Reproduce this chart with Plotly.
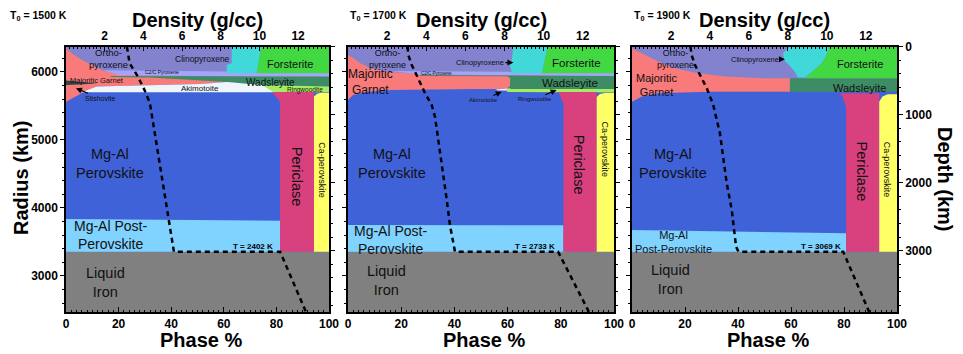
import plotly.graph_objects as go

# ---------------- data ----------------
T0 = [1500, 1700, 1900]
T_CMB = [2402, 2733, 3069]

R_TOP, R_BOT, R_CMB = 6371, 2470, 3357
DENSITY_MAX = 13.6

PHASE_TICKS = [0, 20, 40, 60, 80, 100]
DENSITY_TICKS = [2, 4, 6, 8, 10, 12]
RADIUS_TICKS = [3000, 4000, 5000, 6000]
DEPTH_TICKS = [0, 1000, 2000, 3000]

# density profile (g/cc) against radius (km), one list per panel
DENSITY = [
    [3.15, 3.22, 3.29, 3.72, 4.06, 4.34, 4.86, 5.20, 5.46, 5.58, 11.07, 12.41],
    [3.05, 3.08, 3.26, 3.68, 3.94, 4.28, 4.45, 5.05, 5.21, 5.47, 10.74, 12.32],
    [3.00, 3.06, 3.23, 3.58, 3.84, 4.17, 4.51, 4.86, 5.12, 5.34, 5.46, 10.84, 12.17],
]
DENSITY_R = [
    [6371, 6250, 6128, 5930, 5734, 5539, 4632, 3970, 3529, 3357, 3357, 2470],
    [6371, 6250, 6103, 5837, 5687, 5515, 5338, 4117, 3750, 3357, 3357, 2470],
    [6371, 6250, 6103, 5906, 5759, 5514, 5102, 4367, 3970, 3431, 3357, 3357, 2470],
]

# phase fields as outlines in (phase %, radius km); one entry per panel
FE_P, FE_R = [0, 100, 100, 0], [2400, 2400, R_CMB, R_CMB]
PV_P, PV_R = [0, 100, 100, 0], [R_CMB, R_CMB, 5850, 5850]
OPX_P, OPX_R = [0, 100, 100, 0], [5850, 5850, 6400, 6400]

PPV_P = [[0, 81.4, 81.4, 0], [0, 81, 81, 0], [0, 80.8, 80.8, 0]]
PPV_R = [[R_CMB, R_CMB, 3813, 3838], [R_CMB, R_CMB, 3745, 3750], [R_CMB, R_CMB, 3627, 3676]]

GARNET_P = [
    [0, 0.8, 3.4, 6.5, 10.3, 14.1, 20.5, 40, 61.2, 61.2, 51, 31.9, 11.7, 7.2, 3.4, 0],
    [0, 1.9, 4.5, 8.3, 15.8, 27.1, 59.8, 60.9, 60.9, 59.8, 49.6, 15.8, 7.1, 1.9, 0],
    [0, 4.9, 9.8, 16.2, 24.9, 35.1, 50.2, 59.6, 59.6, 28.7, 9.8, 3.7, 0],
]
GARNET_R = [
    [6360, 6314, 6241, 6167, 6094, 6020, 5956, 5935, 5870, 5853, 5824, 5809, 5784, 5714, 5640, 5563],
    [6250, 6206, 6132, 6059, 6000, 5971, 5949, 5912, 5794, 5750, 5750, 5735, 5710, 5662, 5588],
    [6348, 6250, 6152, 6054, 5981, 5931, 5907, 5907, 5710, 5710, 5687, 5637, 5563],
]

C2C_P = [[14, 100, 100, 20], [15.8, 100, 100, 27.1], None]
C2C_R = [[6025, 5992, 5926, 5950], [6015, 5993, 5934, 5963], None]

WADS_P = [
    [17, 100, 100, 75.7, 61.2, 47.1, 31.9, 17],
    [27.1, 100, 100, 59.8, 60.9, 60.9, 59.8, 27.1],
    [59.6, 100, 100, 59.6],
]
WADS_R = [
    [5940, 5931, 5784, 5809, 5853, 5882, 5919, 5925],
    [5955, 5940, 5750, 5750, 5794, 5912, 5935, 5942],
    [5907, 5907, 5710, 5710],
]

AKI_P = [[11.7, 31.9, 51, 61.2, 74.5, 78.5, 81.4, 6], [55.3, 60.9, 61.7, 56.4], None]
AKI_R = [[5784, 5809, 5824, 5853, 5809, 5765, 5700, 5700], [5743, 5758, 5728, 5728], None]

STI_P = [[0, 5.3, 11.8, 5.3, 0], None, None]
STI_R = [[5875, 5860, 5831, 5816, 5809], None, None]

RW_P = [[74.5, 100, 100, 79], [59.8, 100, 100, 59.8], None]
RW_R = [[5809, 5784, 5700, 5700], [5750, 5750, 5696, 5706], None]

CPX_P = [
    [63, 74.4, 72.5, 61.1, 61.1, 63],
    [62.0, 75.2, 72.9, 61.7, 60.9, 61.7, 62.0],
    [59.6, 74.7, 73.2, 71.7, 67.9, 65.3, 62.6, 61.5, 59.6, 57.4, 57.0, 58.9],
]
CPX_R = [
    [6400, 6400, 5981, 5981, 6103, 6128],
    [6400, 6400, 5981, 5981, 6088, 6206, 6324],
    [6400, 6400, 6235, 6132, 6000, 5919, 5919, 6000, 6088, 6176, 6279, 6353],
]

FO_P = [[74.4, 100, 100, 72.5], [75.2, 100, 100, 72.9], [74.7, 100, 100, 65.3, 67.9, 71.7, 73.2]]
FO_R = [[6400, 6400, 5981, 5981], [6400, 6400, 5981, 5981], [6400, 6400, 5907, 5907, 6000, 6132, 6235]]

PER_P = [[78.3, 94.3, 94.3, 81.4, 81.4], [79.1, 93.5, 93.5, 81, 81], [78.5, 93.3, 93.3, 80.8, 80.8, 79.6]]
PER_R = [[5706, 5706, R_CMB, R_CMB, 5560], [5706, 5706, R_CMB, R_CMB, 5530],
         [5687, 5687, R_CMB, R_CMB, 5480, 5620]]

CAPV_P = [[94.3, 95.5, 97, 100, 100, 94.3], [93.5, 94.7, 96.5, 100, 100, 93.5],
          [93.3, 94.5, 96.5, 100, 100, 93.3]]
CAPV_R = [[5640, 5680, 5695, 5695, R_CMB, R_CMB], [5630, 5675, 5690, 5690, R_CMB, R_CMB],
          [5560, 5640, 5670, 5670, R_CMB, R_CMB]]

# ---------------- styling ----------------
# the page body keeps its default 8px margin, so the figure is 8px smaller
PAGE_OFF = 8
W, H = 963 - PAGE_OFF, 354 - PAGE_OFF
PANEL_PX = [(66, 329), (348, 614), (632, 897)]   # page pixels
TOP_PX, BOT_PX = 46.7, 312
FONT = "Liberation Sans, Arial, Helvetica, sans-serif"
INK = "#111111"


def px_x(px):
    return (px - PAGE_OFF) / W


def px_y(py):
    return 1 - (py - PAGE_OFF) / H


LAYERS = [
    ("#808080", [FE_P] * 3, [FE_R] * 3),
    ("#4062d8", [PV_P] * 3, [PV_R] * 3),
    ("#80d2ff", PPV_P, PPV_R),
    ("#8282cf", [OPX_P] * 3, [OPX_R] * 3),
    ("#f87a7a", GARNET_P, GARNET_R),
    ("#a4a4fa", C2C_P, C2C_R),
    ("#3e8c64", WADS_P, WADS_R),
    ("#eef6fc", AKI_P, AKI_R),
    ("#2c4444", STI_P, STI_R),
    ("#a6ec62", RW_P, RW_R),
    ("#40d8d8", CPX_P, CPX_R),
    ("#42d842", FO_P, FO_R),
    ("#d8407e", PER_P, PER_R),
    ("#ffff66", CAPV_P, CAPV_R),
]

# (text, phase %, radius, font size, angle)
LABELS = [
    [("Mg-Al<br>Perovskite", 16.7, 4647, 14.5, 0), ("Mg-Al Post-<br>Perovskite", 17, 3596, 14, 0),
     ("Liquid<br>Iron", 15.2, 2897, 14.5, 0), ("Periclase", 87.8, 4460, 14.5, 90),
     ("Ca-perovskite", 97.2, 4560, 9, 90), ("Ortho-<br>pyroxene", 16, 6191, 9.5, 0),
     ("C2/C Pyroxene", 36.4, 6004, 5, 0), ("Forsterite", 85.2, 6113, 11, 0),
     ("Wadsleyite", 77.6, 5849, 10, 0), ("Majoritic Garnet", 11.7, 5880, 7.5, 0),
     ("Akimotoite", 51, 5760, 8, 0), ("Ringwoodite", 90.9, 5740, 6.5, 0)],
    [("Mg-Al<br>Perovskite", 16.5, 4647, 14.5, 0), ("Mg-Al Post-<br>Perovskite", 15.8, 3529, 14, 0),
     ("Liquid<br>Iron", 14.6, 2926, 14.5, 0), ("Periclase", 86.9, 4632, 14.5, 90),
     ("Ca-perovskite", 96.8, 4853, 9, 90), ("Ortho-<br>pyroxene", 15, 6191, 9, 0),
     ("C2/C Pyroxene", 33.3, 5975, 4.5, 0), ("Forsterite", 86, 6137, 11.5, 0),
     ("Wadsleyite", 83.5, 5834, 11.5, 0), ("Majoritic<br>Garnet", 8.6, 5846, 12, 0)],
    [("Mg-Al<br>Perovskite", 15.5, 4647, 14.5, 0), ("Mg-Al<br>Post-Perovskite", 15.5, 3500, 11, 0),
     ("Liquid<br>Iron", 14.7, 2941, 14.5, 0), ("Periclase", 86.8, 4534, 14.5, 90),
     ("Ca-perovskite", 96.3, 4560, 9, 90), ("Ortho-<br>pyroxene", 16.6, 6191, 9, 0),
     ("Forsterite", 86, 6113, 11, 0), ("Wadsleyite", 86, 5769, 11, 0),
     ("Majoritic<br>Garnet", 9.1, 5809, 11, 0)],
]

# (text, text phase %, text radius, tip phase %, tip radius, font size)
ARROWS = [
    [("Clinopyroxene", 52, 6187, 63.3, 6187, 8.5), ("Stishovite", 12.9, 5613, 3.8, 5760, 7)],
    [("Clinopyroxene", 49.6, 6137, 62.2, 6137, 7.5), ("Akimotoite", 50.9, 5588, 57.8, 5710, 6),
     ("Ringwoodite", 70.3, 5598, 78.4, 5735, 6)],
    [("Clinopyroxene", 46.4, 6187, 57.7, 6187, 7.5)],
]
T_LABEL_POS = [(79.5, 3431), (78.4, 3431), (79.6, 3431)]

tick_font = dict(family=FONT, size=12, color="black", weight="bold")
title_font = dict(family=FONT, size=20, color="black", weight="bold")

fig = go.Figure()
annotations = []
layout = {}
ydom = [px_y(BOT_PX), px_y(TOP_PX)]

for i in range(3):
    sb = "" if i == 0 else str(i + 1)
    st = str(i + 4)
    xb, yb, xt, yt = "x" + sb, "y" + sb, "x" + st, "y" + st

    for color, plist, rlist in LAYERS:
        if plist[i] is None:
            continue
        fig.add_trace(go.Scatter(x=plist[i], y=rlist[i], xaxis=xb, yaxis=yb, mode="lines",
                                 fill="toself", fillcolor=color, line=dict(width=0),
                                 hoverinfo="skip", showlegend=False))

    fig.add_trace(go.Scatter(x=DENSITY[i], y=DENSITY_R[i], xaxis=xt, yaxis=yb, mode="lines",
                             line=dict(color="black", width=2.5, dash="5px,4px"),
                             hoverinfo="skip", showlegend=False))
    fig.add_trace(go.Scatter(x=[None], y=[None], xaxis=xb, yaxis=yt, showlegend=False,
                             hoverinfo="skip"))

    dom = [px_x(PANEL_PX[i][0]), px_x(PANEL_PX[i][1])]
    common = dict(showline=True, linecolor="black", linewidth=1.5, showgrid=False,
                  zeroline=False, tickcolor="black", tickfont=tick_font, automargin=False)
    layout["xaxis" + sb] = dict(domain=dom, range=[0, 100], anchor=yb, tickvals=PHASE_TICKS,
                                ticks="inside", ticklen=5,
                                minor=dict(dtick=2, ticks="inside", ticklen=2.5, tickcolor="black"),
                                **common)
    layout["xaxis" + st] = dict(overlaying=xb, side="top", anchor=yb, range=[0, DENSITY_MAX],
                                tickvals=DENSITY_TICKS, ticks="inside", ticklen=5,
                                minor=dict(dtick=0.2, ticks="inside", ticklen=2.5, tickcolor="black"),
                                **common)
    layout["yaxis" + sb] = dict(domain=ydom, range=[R_BOT, R_TOP], anchor=xb,
                                tickvals=RADIUS_TICKS, showticklabels=(i == 0),
                                ticks="outside", ticklen=4,
                                minor=dict(dtick=200, ticks="outside", ticklen=2.5, tickcolor="black"),
                                **common)
    layout["yaxis" + st] = dict(overlaying=yb, side="right", anchor=xb,
                                range=[R_TOP - R_BOT, 0], tickvals=DEPTH_TICKS,
                                showticklabels=(i == 2), ticks="outside", ticklen=4,
                                minor=dict(dtick=200, ticks="outside", ticklen=2.5, tickcolor="black"),
                                **common)

    for text, p, r, size, ang in LABELS[i]:
        annotations.append(dict(text=text, x=p, y=r, xref=xb, yref=yb, showarrow=False,
                                textangle=ang, font=dict(family=FONT, size=size, color=INK)))
    for text, tp, tr, hp, hr, size in ARROWS[i]:
        annotations.append(dict(text=text, x=hp, y=hr, ax=tp, ay=tr, xref=xb, yref=yb,
                                axref=xb, ayref=yb, showarrow=True, arrowhead=2, arrowsize=1,
                                arrowwidth=1.2, arrowcolor="black",
                                font=dict(family=FONT, size=size, color=INK)))
    tp, tr = T_LABEL_POS[i]
    annotations.append(dict(text=f"T = {T_CMB[i]} K", x=tp, y=tr, xref=xb, yref=yb,
                            xanchor="right", showarrow=False,
                            font=dict(family=FONT, size=8, color="black", weight="bold")))

    cx = (PANEL_PX[i][0] + PANEL_PX[i][1]) / 2
    annotations.append(dict(text="Density (g/cc)", x=px_x(cx), y=px_y(8), xref="paper",
                            yref="paper", xanchor="center", yanchor="top", borderpad=0,
                            showarrow=False, font=title_font))
    annotations.append(dict(text="Phase %", x=px_x(cx + 3), y=px_y(340), xref="paper",
                            yref="paper", xanchor="center", yanchor="middle",
                            showarrow=False, font=title_font))
    t0_x = 9 if i == 0 else PANEL_PX[i][0] + 1
    annotations.append(dict(text=f"T<sub>0</sub> = {T0[i]} K", x=px_x(t0_x), y=px_y(8),
                            xref="paper", yref="paper", xanchor="left", yanchor="top",
                            borderpad=0, showarrow=False,
                            font=dict(family=FONT, size=10.5, color="black", weight="bold")))

annotations.append(dict(text="Radius (km)", x=px_x(21), y=px_y(178), xref="paper", yref="paper",
                        xanchor="center", yanchor="middle", textangle=-90, showarrow=False,
                        font=title_font))
annotations.append(dict(text="Depth (km)", x=px_x(945), y=px_y(179), xref="paper", yref="paper",
                        xanchor="center", yanchor="middle", textangle=90, showarrow=False,
                        font=title_font))

fig.update_layout(**layout)
fig.update_layout(width=W, height=H, margin=dict(l=0, r=0, t=0, b=0),
                  paper_bgcolor="white", plot_bgcolor="white",
                  annotations=annotations, showlegend=False)

fig.write_html("out.html")
